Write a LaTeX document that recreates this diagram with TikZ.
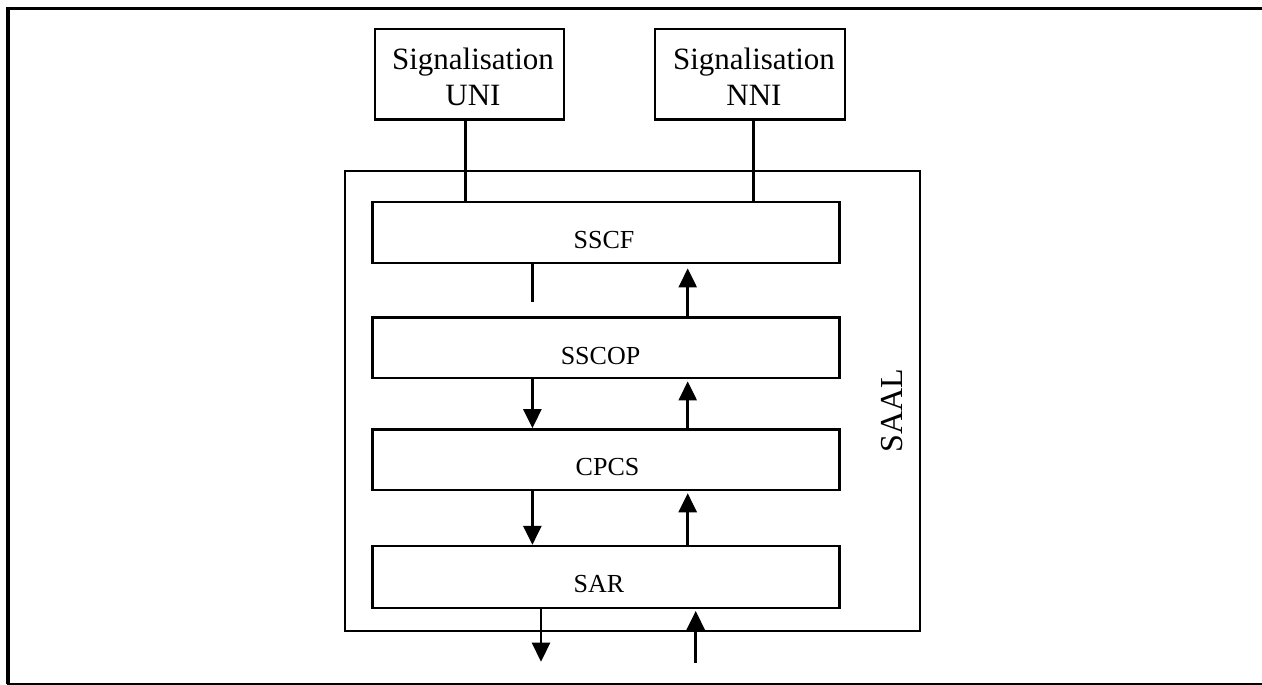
\documentclass[tikz,border=0pt]{standalone}
\usepackage{fontspec}
\setmainfont{Liberation Serif}
\usetikzlibrary{arrows.meta}
\tikzset{
  layerbox/.style={draw, line width=2.4pt, minimum height=61pt, minimum width=467pt, inner sep=0pt},
  sigbox/.style={draw, line width=2.4pt, minimum height=90pt, inner sep=0pt},
  laytext/.style={font=\fontsize{26}{30}\selectfont, inner sep=0pt},
  sigtext/.style={font=\fontsize{31}{36}\selectfont, align=center, inner sep=0pt},
  conn/.style={line width=2.6pt},
  arr/.style={line width=2.6pt, -{Triangle[length=19pt,width=18pt]}},
}
\begin{document}
\begin{tikzpicture}[x=1pt,y=-1pt]
\useasboundingbox (0,0) rectangle (1262,685);
\fill[white] (0,0) rectangle (1262,685);
% outer frame
\draw[line width=3.5pt] (6.5,8.5) -- (1262,8.5);
\draw[line width=3.5pt] (8,7) -- (8,684);
\draw[line width=2pt] (6.5,684) -- (1262,684);
% signalisation boxes
\node[sigbox, minimum width=189pt] (uni) at (469.5,74.3) {};
\node[sigtext] (uniT) at (473,77) {Signalisation\\UNI};
\node[sigbox, minimum width=190pt] (nni) at (750,74.3) {};
\node[sigtext] (nniT) at (754,77) {Signalisation\\NNI};
% SAAL box
\node[draw, line width=2.4pt, minimum width=575pt, minimum height=460.3pt, inner sep=0pt] (saal) at (632.5,400.9) {};
\node[font=\fontsize{32}{36}\selectfont, rotate=90, inner sep=0pt] (saalT) at (891.7,410.3) {SAAL};
% layers
\node[layerbox] (sscf) at (605.8,232.7) {};
\node[laytext] (sscfT) at (604,240.5) {SSCF};
\node[layerbox, minimum height=60.4pt] (sscop) at (605.8,347.5) {};
\node[laytext] (sscopT) at (600.5,356) {SSCOP};
\node[layerbox, minimum height=60.7pt] (cpcs) at (605.8,459.7) {};
\node[laytext] (cpcsT) at (607.5,467.5) {CPCS};
\node[layerbox, minimum height=61.7pt] (sar) at (605.8,576.9) {};
\node[laytext] (sarT) at (599,584.5) {SAR};
% column positions
\coordinate (lineU) at (465.7,0);
\coordinate (lineN) at (753.3,0);
\coordinate (colL) at (532.4,0);
\coordinate (colR) at (687.7,0);
\coordinate (stub) at (532.4,302.3);
\coordinate (outD) at (541,661.7);
\coordinate (inU) at (695.7,662.7);
% connectors
\draw[conn] (uni.south -| lineU) -- (sscf.north -| lineU);
\draw[conn] (nni.south -| lineN) -- (sscf.north -| lineN);
\draw[conn] (sscf.south -| colL) -- (stub);
\draw[arr, shorten >=4pt] (sscop.north -| colR) -- (sscf.south -| colR);
\draw[arr] (sscop.south -| colL) -- (cpcs.north -| colL);
\draw[arr, shorten >=2.5pt] (cpcs.north -| colR) -- (sscop.south -| colR);
\draw[arr] (cpcs.south -| colL) -- (sar.north -| colL);
\draw[arr, shorten >=2pt] (sar.north -| colR) -- (cpcs.south -| colR);
\draw[arr] (sar.south -| outD) -- (outD);
\draw[arr, shorten >=2pt] (inU) -- (sar.south -| inU);
\end{tikzpicture}
\end{document}
